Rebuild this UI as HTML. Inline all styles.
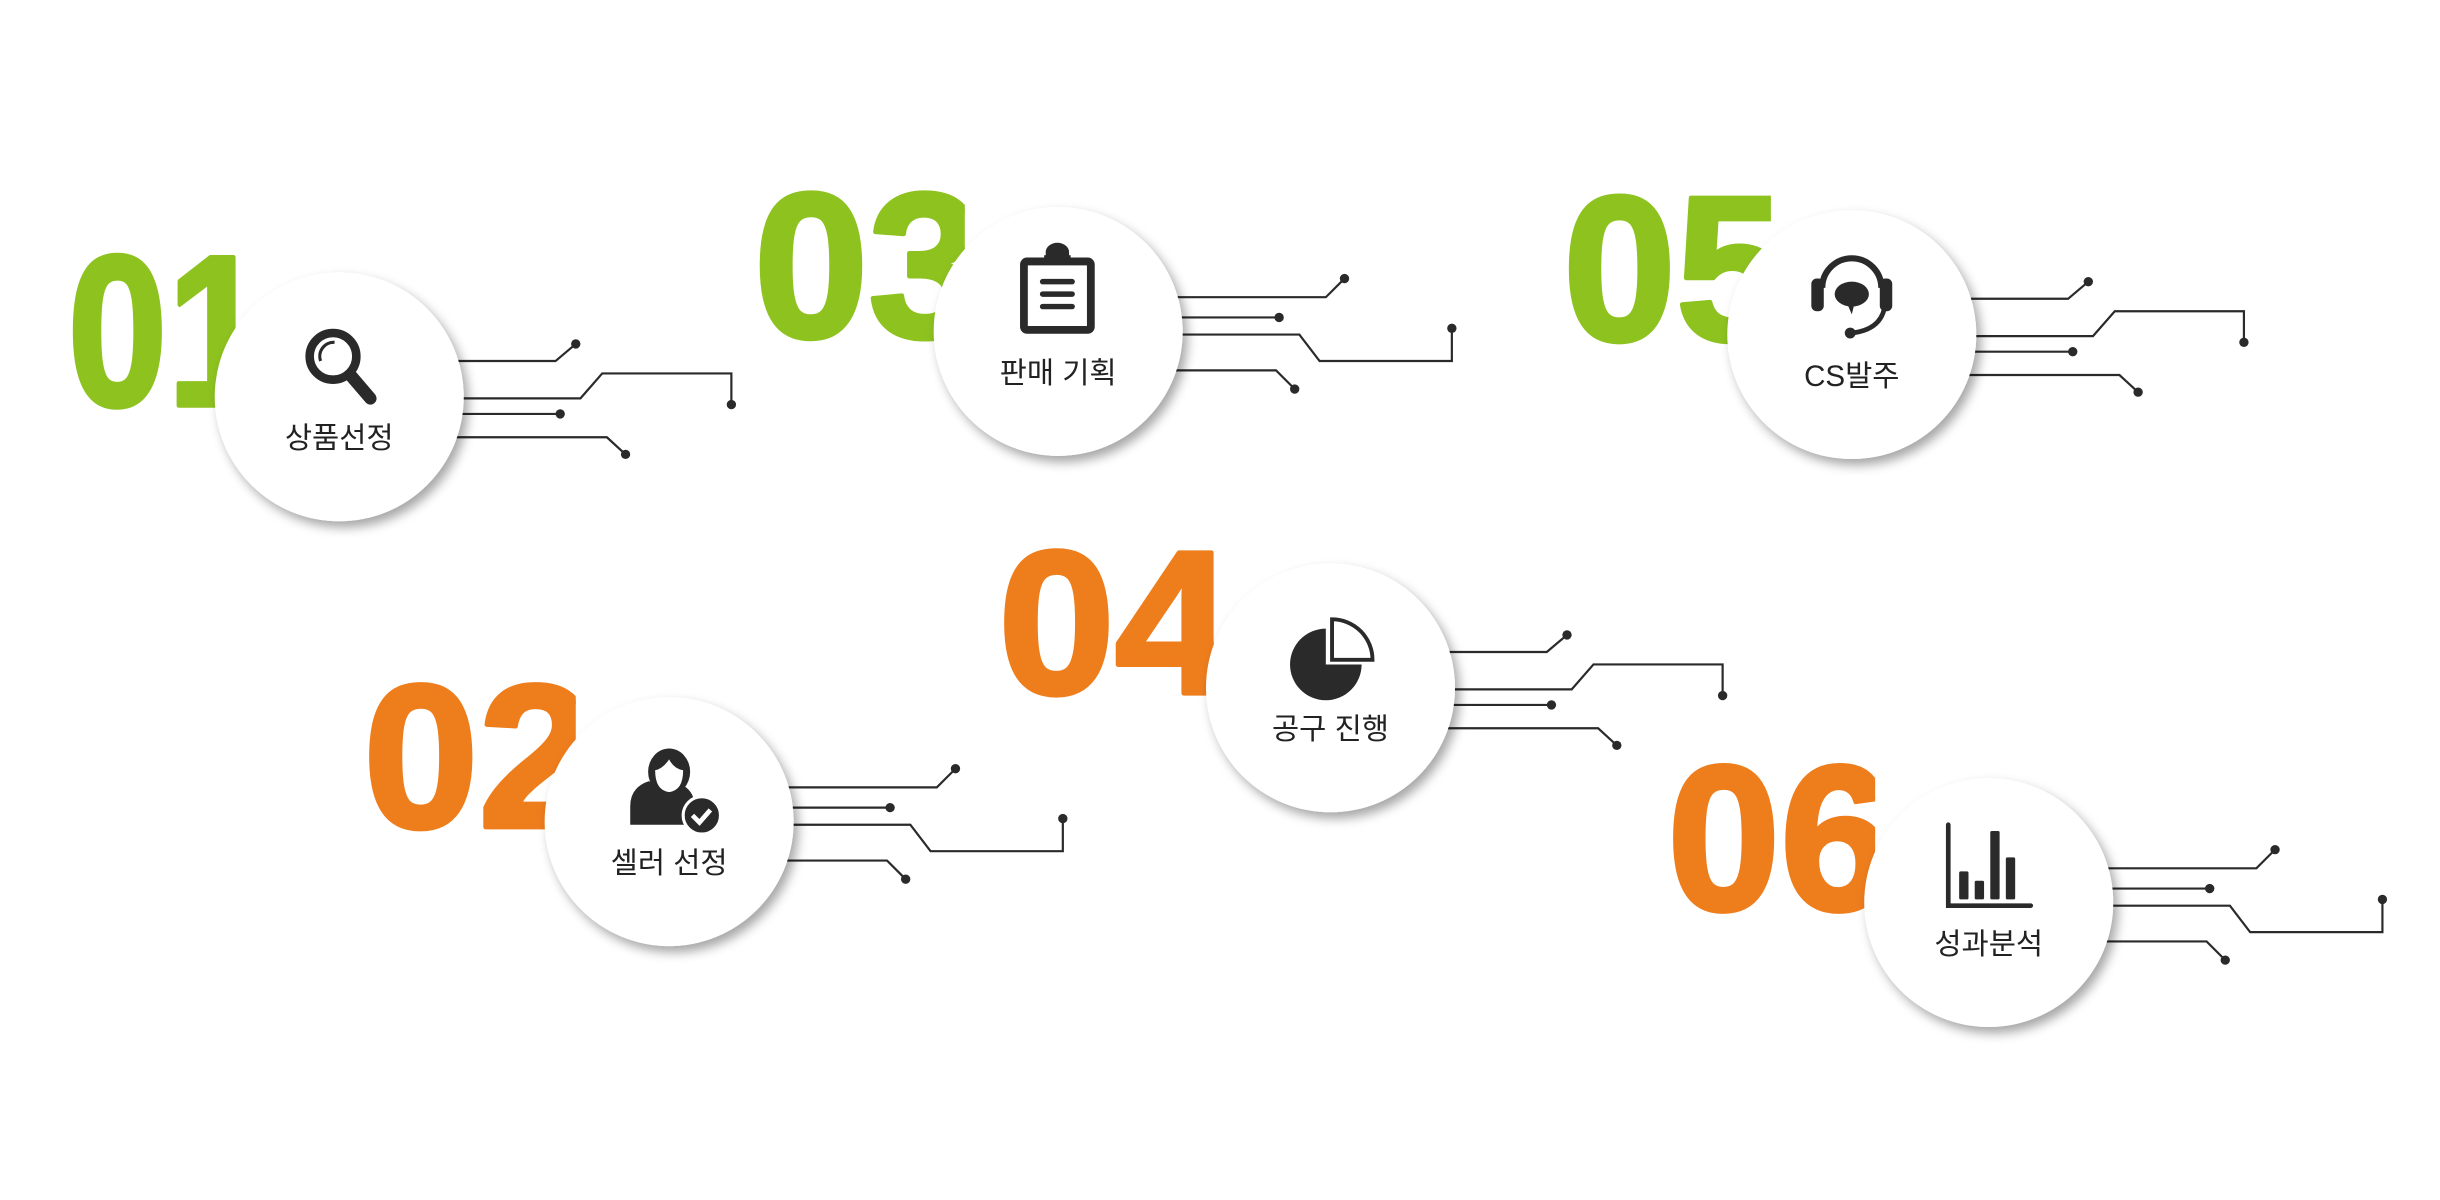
<!DOCTYPE html>
<html><head><meta charset="utf-8"><style>
html,body{margin:0;padding:0;background:#fff;width:2440px;height:1200px;overflow:hidden}
svg{display:block}
</style></head><body>
<svg id="s" width="2440" height="1200" viewBox="0 0 1568 771.15" preserveAspectRatio="none" xmlns="http://www.w3.org/2000/svg">
<defs>
<filter id="sh" x="-30%" y="-30%" width="160%" height="160%">
<feDropShadow dx="3" dy="4" stdDeviation="3.5" flood-color="#000" flood-opacity="0.35"/>
</filter>
</defs>
<g id="g"></g>
</svg>
<script>
var G='#8dc21f',O='#ee7d1c';
var items=[
 {n:'01',c:G,cx:218,cy:255,nx:42,nx2:160,ny1:160,ny2:262,p:'A',t:'상품선정',ic:'mag'},
 {n:'02',c:O,cx:430,cy:528,nx:232,nx2:370,ny1:436,ny2:533,p:'B',t:'셀러 선정',ic:'per'},
 {n:'03',c:G,cx:680,cy:213,nx:483,nx2:620,ny1:120,ny2:218,p:'B',t:'판매 기획',ic:'clip'},
 {n:'04',c:O,cx:855,cy:442,nx:640,nx2:780,ny1:350,ny2:447,p:'A',t:'공구 진행',ic:'pie'},
 {n:'05',c:G,cx:1190,cy:215,nx:1003,nx2:1138,ny1:122,ny2:220,p:'A',t:'CS발주',ic:'head'},
 {n:'06',c:O,cx:1278,cy:580,nx:1070,nx2:1205,ny1:488,ny2:586,p:'B',t:'성과분석',ic:'bar'}
];
var h='',K='#2a2a2a';
items.forEach(function(o,i){
 var x=o.cx,y=o.cy,L=[],D=[];
 if(o.p=='A'){
  L=['M'+(x+60)+' '+(y-23)+'H'+(x+139)+'L'+(x+152)+' '+(y-34),
     'M'+(x+60)+' '+(y+1)+'H'+(x+155)+'L'+(x+169)+' '+(y-15)+'H'+(x+252)+'V'+(y+5),
     'M'+(x+60)+' '+(y+11)+'H'+(x+142),
     'M'+(x+60)+' '+(y+26)+'H'+(x+172)+'L'+(x+184)+' '+(y+37)];
  D=[[152,-34],[252,5],[142,11],[184,37]];
 }else{
  L=['M'+(x+60)+' '+(y-22)+'H'+(x+172)+'L'+(x+184)+' '+(y-34),
     'M'+(x+60)+' '+(y-9)+'H'+(x+142),
     'M'+(x+60)+' '+(y+2)+'H'+(x+155)+'L'+(x+168)+' '+(y+19)+'H'+(x+253)+'V'+(y-2),
     'M'+(x+60)+' '+(y+25)+'H'+(x+140)+'L'+(x+152)+' '+(y+37)];
  D=[[184,-34],[142,-9],[253,-2],[152,37]];
 }
 var hh=o.ny2-o.ny1;
 h+='<clipPath id="c'+i+'"><rect x="'+o.nx+'" y="'+(o.ny1-10)+'" width="'+(o.nx2-o.nx)+'" height="'+(hh+20)+'"/></clipPath>';
 h+='<text clip-path="url(#c'+i+')" x="'+(o.nx+1.5)+'" y="'+(o.ny2-1.5)+'" font-family="Liberation Sans,sans-serif" font-weight="bold" font-size="'+((hh-3)/0.716)+'" fill="'+o.c+'" stroke="'+o.c+'" stroke-width="3" stroke-linejoin="round" textLength="'+(o.nx2-o.nx+10)+'" lengthAdjust="spacingAndGlyphs">'+o.n+'</text>';
 L.forEach(function(d){h+='<path d="'+d+'" fill="none" stroke="'+K+'" stroke-width="1.4"/>';});
 D.forEach(function(d){h+='<circle cx="'+(x+d[0])+'" cy="'+(y+d[1])+'" r="3" fill="'+K+'"/>';});
 h+='<circle cx="'+x+'" cy="'+y+'" r="80" fill="#fff" filter="url(#sh)"/>';
 h+='<text x="'+x+'" y="'+(y+33)+'" text-anchor="middle" font-family="Liberation Sans,Noto Sans CJK KR,sans-serif" font-size="19" fill="#222">'+o.t+'</text>';
 var ic='';
 if(o.ic=='mag'){
  ic='<circle cx="'+(x-4)+'" cy="'+(y-26)+'" r="15" fill="none" stroke="'+K+'" stroke-width="5.5"/><path d="M'+(x+8)+' '+(y-13)+'L'+(x+20)+' '+(y+1)+'" stroke="'+K+'" stroke-width="8" stroke-linecap="round"/><path d="M'+(x-12)+' '+(y-23)+'A9 9 0 0 1 '+(x-3)+' '+(y-35)+'" fill="none" stroke="'+K+'" stroke-width="2"/>';
 }else if(o.ic=='clip'){
  ic='<rect x="'+(x-22)+'" y="'+(y-45)+'" width="43" height="44" rx="2" fill="none" stroke="'+K+'" stroke-width="5"/><path d="M'+(x-8)+' '+(y-47)+'h15v-4a7.5 6 0 0 0 -15 0z" fill="'+K+'"/><rect x="'+(x-9)+'" y="'+(y-49)+'" width="17" height="6" fill="'+K+'"/><path d="M'+(x-10)+' '+(y-32)+'h19M'+(x-10)+' '+(y-24)+'h19M'+(x-10)+' '+(y-16)+'h19" stroke="'+K+'" stroke-width="3.5" stroke-linecap="round"/>';
 }else if(o.ic=='head'){
  ic='<path d="M'+(x-19)+' '+(y-30)+'A19 19 0 0 1 '+(x+19)+' '+(y-30)+'" fill="none" stroke="'+K+'" stroke-width="4"/><rect x="'+(x-26)+'" y="'+(y-36)+'" width="8" height="21" rx="3.5" fill="'+K+'"/><rect x="'+(x+18)+'" y="'+(y-36)+'" width="8" height="21" rx="3.5" fill="'+K+'"/><path d="M'+(x+21)+' '+(y-17)+'Q'+(x+18)+' '+(y-3)+' '+(x)+' '+(y-1)+'" fill="none" stroke="'+K+'" stroke-width="3"/><circle cx="'+(x-1)+'" cy="'+(y-1)+'" r="3.5" fill="'+K+'"/><ellipse cx="'+x+'" cy="'+(y-26)+'" rx="11" ry="8" fill="'+K+'"/><path d="M'+(x-3)+' '+(y-20)+'l3 7l2-8z" fill="'+K+'"/>';
 }else if(o.ic=='per'){
  ic='<path d="M'+(x-25)+' '+(y+2)+'v-12q0-12 12-16q8 5 16 0q12 4 13 13v15z" fill="'+K+'"/><ellipse cx="'+(x)+'" cy="'+(y-32)+'" rx="13.5" ry="15" fill="'+K+'"/><path d="M'+(x-9)+' '+(y-33)+'q5-1 9-7q3 6 9 7q0 13-9 14q-9-1-9-14z" fill="#fff"/><circle cx="'+(x+21)+'" cy="'+(y-4)+'" r="12" fill="'+K+'" stroke="#fff" stroke-width="2"/><path d="M'+(x+15)+' '+(y-4)+'l4.5 4.5l7-8" fill="none" stroke="#fff" stroke-width="3"/>';
 }else if(o.ic=='pie'){
  ic='<path d="M'+(x-3)+' '+(y-38)+'A23 23 0 1 0 '+(x+20)+' '+(y-15)+'H'+(x-3)+'z" fill="'+K+'"/><path d="M'+(x+1)+' '+(y-44)+'A26 26 0 0 1 '+(x+27)+' '+(y-18)+'H'+(x+1)+'z" fill="#fff" stroke="'+K+'" stroke-width="2.5"/>';
 }else if(o.ic=='bar'){
  ic='<path d="M'+(x-26)+' '+(y-50)+'V'+(y+2)+'H'+(x+27)+'" fill="none" stroke="'+K+'" stroke-width="3" stroke-linecap="round"/><rect x="'+(x-19)+'" y="'+(y-20)+'" width="6" height="18" rx="1" fill="'+K+'"/><rect x="'+(x-9)+'" y="'+(y-14)+'" width="6" height="12" rx="1" fill="'+K+'"/><rect x="'+(x+1)+'" y="'+(y-46)+'" width="6" height="44" rx="1" fill="'+K+'"/><rect x="'+(x+11)+'" y="'+(y-29)+'" width="6" height="27" rx="1" fill="'+K+'"/>';
 }
 h+=ic;
});
document.getElementById('g').innerHTML=h;
</script>
</body></html>
